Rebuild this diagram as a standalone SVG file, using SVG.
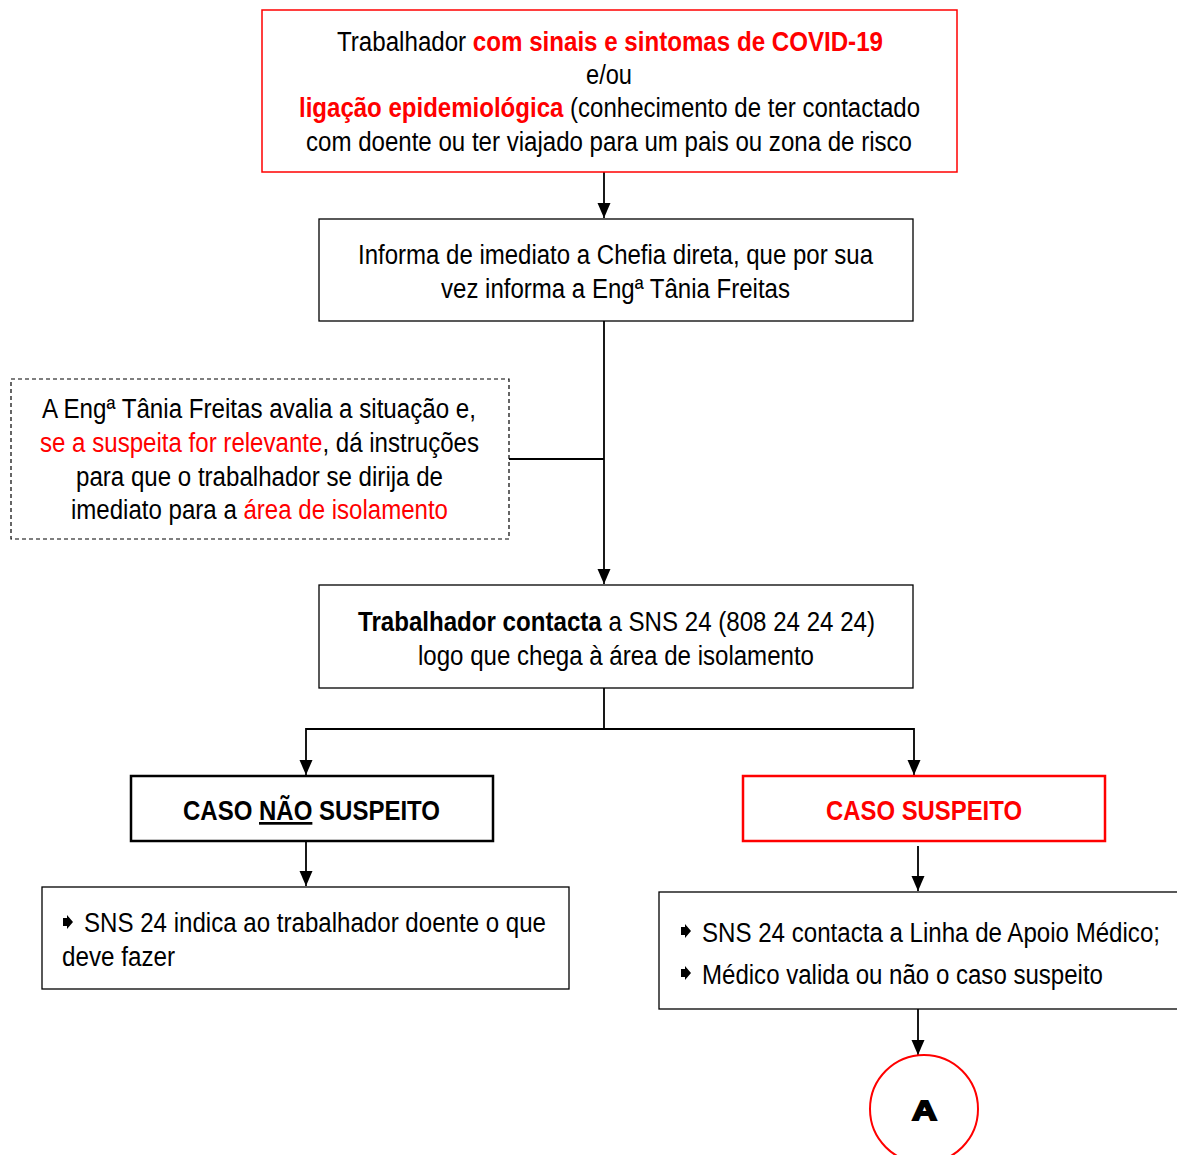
<svg xmlns="http://www.w3.org/2000/svg" width="1177" height="1155" viewBox="0 0 1177 1155">
<style>
text{font-family:"Liberation Sans Narrow","Liberation Sans",Arial,sans-serif;font-size:27px;fill:#000}
.r{fill:#ff0000}
.b{font-weight:bold}
.box{fill:#fff;stroke:#000;stroke-width:1.3}
.rbox{fill:#fff;stroke:#ff0000;stroke-width:1.5}
.conn{fill:none;stroke:#000;stroke-width:1.8}
</style>
<defs>
<marker id="ah" markerWidth="13" markerHeight="15" refX="15" refY="6.5" orient="auto" markerUnits="userSpaceOnUse">
<path d="M0,0 L15,6.5 L0,13 Z" fill="#000"/>
</marker>
<path id="bul" d="M0,-4 L4,-4 L4,-7 L10,0 L4,7 L4,4 L0,4 Z" fill="#000"/>
</defs>
<rect width="1177" height="1155" fill="#fff"/>

<g id="connectors">
<line class="conn" x1="604" y1="172" x2="604" y2="218" marker-end="url(#ah)"/>
<line class="conn" x1="604" y1="321" x2="604" y2="584" marker-end="url(#ah)"/>
<line class="conn" x1="509" y1="459" x2="604" y2="459"/>
<polyline class="conn" points="604,688 604,729 306,729 306,775" marker-end="url(#ah)"/>
<polyline class="conn" points="604,729 914,729 914,775" marker-end="url(#ah)"/>
<line class="conn" x1="306" y1="841" x2="306" y2="886" marker-end="url(#ah)"/>
<line class="conn" x1="918" y1="846" x2="918" y2="891" marker-end="url(#ah)"/>
<line class="conn" x1="918" y1="1009" x2="918" y2="1055" marker-end="url(#ah)"/>
</g>

<g id="n1">
<rect class="rbox" x="262" y="10" width="695" height="162"/>
<text x="337" y="51" textLength="546" lengthAdjust="spacingAndGlyphs">Trabalhador <tspan class="r b">com sinais e sintomas de COVID-19</tspan></text>
<text x="586" y="84" textLength="46" lengthAdjust="spacingAndGlyphs">e/ou</text>
<text x="299" y="117" textLength="621" lengthAdjust="spacingAndGlyphs"><tspan class="r b">ligação epidemiológica</tspan> (conhecimento de ter contactado</text>
<text x="306" y="151" textLength="606" lengthAdjust="spacingAndGlyphs">com doente ou ter viajado para um pais ou zona de risco</text>
</g>

<g id="n2">
<rect class="box" x="319" y="219" width="594" height="102"/>
<text x="358" y="264" textLength="515" lengthAdjust="spacingAndGlyphs">Informa de imediato a Chefia direta, que por sua</text>
<text x="441" y="298" textLength="349" lengthAdjust="spacingAndGlyphs">vez informa a Engª Tânia Freitas</text>
</g>

<g id="n3">
<rect x="11" y="379" width="498" height="160" fill="#fff" stroke="#000" stroke-width="1.2" stroke-dasharray="4,3"/>
<text x="42" y="418" textLength="434" lengthAdjust="spacingAndGlyphs">A Engª Tânia Freitas avalia a situação e,</text>
<text x="40" y="452" textLength="439" lengthAdjust="spacingAndGlyphs"><tspan class="r">se a suspeita for relevante</tspan>, dá instruções</text>
<text x="76" y="486" textLength="367" lengthAdjust="spacingAndGlyphs">para que o trabalhador se dirija de</text>
<text x="71" y="519" textLength="377" lengthAdjust="spacingAndGlyphs">imediato para a <tspan class="r">área de isolamento</tspan></text>
</g>

<g id="n4">
<rect class="box" x="319" y="585" width="594" height="103"/>
<text x="358" y="631" textLength="517" lengthAdjust="spacingAndGlyphs"><tspan class="b">Trabalhador contacta</tspan> a SNS 24 (808 24 24 24)</text>
<text x="418" y="665" textLength="396" lengthAdjust="spacingAndGlyphs">logo que chega à área de isolamento</text>
</g>

<g id="n5">
<rect x="131" y="776" width="362" height="65" fill="#fff" stroke="#000" stroke-width="2.5"/>
<text class="b" x="183" y="820" textLength="257" lengthAdjust="spacingAndGlyphs">CASO <tspan text-decoration="underline">NÃO</tspan> SUSPEITO</text>
</g>

<g id="n6">
<rect x="743" y="776" width="362" height="65" fill="#fff" stroke="#ff0000" stroke-width="2.5"/>
<text class="b r" x="826" y="820" textLength="196" lengthAdjust="spacingAndGlyphs">CASO SUSPEITO</text>
</g>

<g id="n7">
<rect class="box" x="42" y="887" width="527" height="102"/>
<use href="#bul" x="63" y="922"/>
<text x="84" y="932" textLength="462" lengthAdjust="spacingAndGlyphs">SNS 24 indica ao trabalhador doente o que</text>
<text x="62" y="966" textLength="113" lengthAdjust="spacingAndGlyphs">deve fazer</text>
</g>

<g id="n8">
<rect class="box" x="659" y="892" width="530" height="117"/>
<use href="#bul" x="681" y="931"/>
<text x="702" y="942" textLength="458" lengthAdjust="spacingAndGlyphs">SNS 24 contacta a Linha de Apoio Médico;</text>
<use href="#bul" x="681" y="973"/>
<text x="702" y="984" textLength="401" lengthAdjust="spacingAndGlyphs">Médico valida ou não o caso suspeito</text>
</g>

<g id="n9">
<circle cx="924" cy="1109" r="54" fill="#fff" stroke="#ff0000" stroke-width="2"/>
<text class="b" x="912" y="1120" font-size="30" textLength="25" lengthAdjust="spacingAndGlyphs" stroke="#000" stroke-width="1.8">A</text>
</g>
</svg>
